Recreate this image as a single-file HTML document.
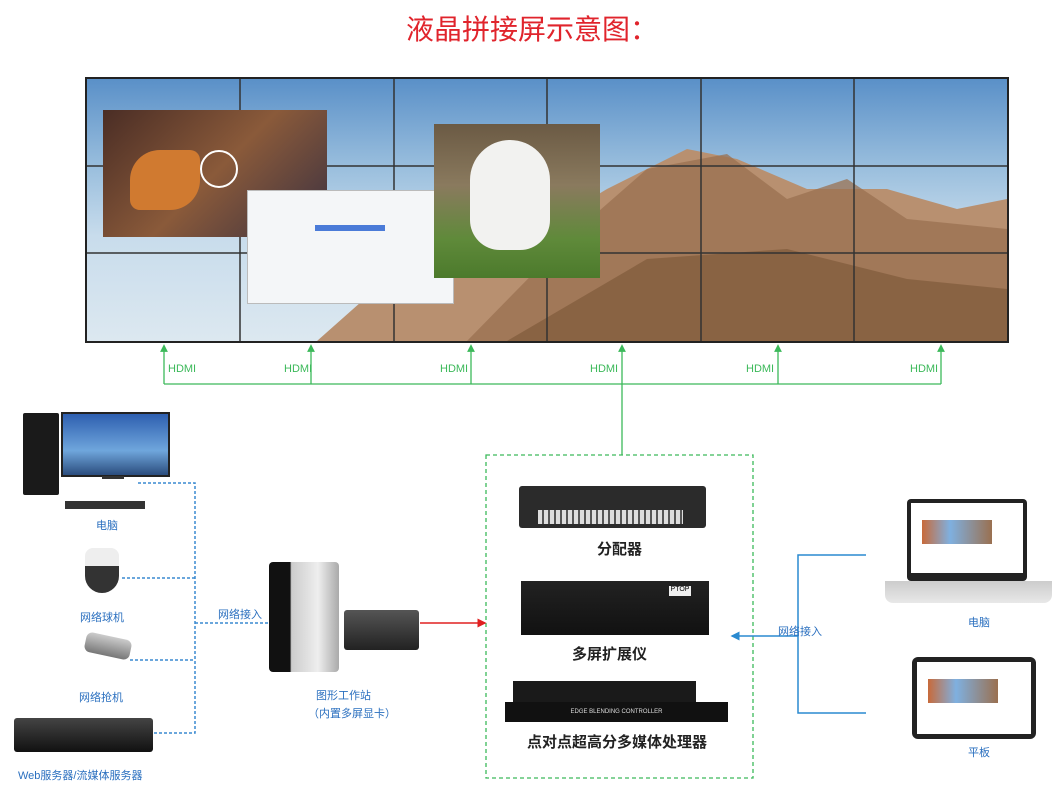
<!DOCTYPE html>
<html><head><meta charset="utf-8"><style>
body{margin:0;width:1064px;height:794px;background:#fff;position:relative;overflow:hidden;font-family:"Liberation Sans","Noto Sans CJK SC",sans-serif}
.a{position:absolute}
.t{position:absolute;font-size:11px;color:#2a6fbf;white-space:nowrap}
.k{position:absolute;font-size:15px;color:#222;font-weight:bold;white-space:nowrap}
</style></head><body>
<div class="a" style="left:0;top:8px;width:1064px;text-align:center;font-size:28px;color:#e0242c">液晶拼接屏示意图：</div>

<div class="a" style="left:85px;top:77px;width:924px;height:266px;background:#222"></div>
<div class="a" style="left:87px;top:79px;width:920px;height:262px;background:linear-gradient(180deg,#5a90c8 0%,#9cc0de 35%,#c8dcec 60%,#dce8f0 100%)"></div>
<svg class="a" style="left:87px;top:79px" width="920" height="262">
<polygon points="230,262 300,200 420,170 520,110 600,70 650,80 720,110 800,110 870,130 920,120 920,262" fill="#b89070"/>
<polygon points="380,262 480,160 560,90 640,75 700,120 760,100 820,140 920,150 920,262" fill="#9a7050" opacity=".75"/>
<polygon points="420,262 560,180 700,170 820,200 920,210 920,262" fill="#7a5535" opacity=".6"/>
<g stroke="#333" stroke-width="1.5"><line x1="153" y1="0" x2="153" y2="262"/><line x1="307" y1="0" x2="307" y2="262"/><line x1="460" y1="0" x2="460" y2="262"/><line x1="614" y1="0" x2="614" y2="262"/><line x1="767" y1="0" x2="767" y2="262"/><line x1="0" y1="87" x2="920" y2="87"/><line x1="0" y1="174" x2="920" y2="174"/></g>
</svg>
<div class="a" style="left:103px;top:110px;width:224px;height:127px;background:linear-gradient(135deg,#4a2d25,#8a5a3a 50%,#3a3040)"></div>
<div class="a" style="left:130px;top:150px;width:70px;height:60px;background:#d07a30;border-radius:30px 10px"></div>
<div class="a" style="left:200px;top:150px;width:34px;height:34px;border-radius:50%;border:2px solid #fff"></div>
<div class="a" style="left:247px;top:190px;width:205px;height:112px;background:#f4f6f8;border:1px solid #bbb"></div>
<div class="a" style="left:315px;top:225px;width:70px;height:6px;background:#4a7bd8"></div>
<div class="a" style="left:434px;top:124px;width:166px;height:154px;background:linear-gradient(180deg,#6b5a44 0%,#8a7a5e 40%,#5f8a3a 75%,#4c7a2c 100%)"></div>
<div class="a" style="left:470px;top:140px;width:80px;height:110px;background:#f2f2f0;border-radius:40px 40px 30px 30px"></div>

<svg class="a" style="left:0;top:0" width="1064" height="794">
<defs>
<marker id="g" markerWidth="6" markerHeight="6" refX="3" refY="3" orient="auto"><path d="M0,0L6,3L0,6z" fill="#3cb95a"/></marker>
<marker id="r" markerWidth="6" markerHeight="6" refX="5" refY="3" orient="auto"><path d="M0,0L6,3L0,6z" fill="#e02020"/></marker>
<marker id="b" markerWidth="6" markerHeight="6" refX="5" refY="3" orient="auto"><path d="M0,0L6,3L0,6z" fill="#2a8ad0"/></marker>
</defs>
<g stroke="#3cb95a" stroke-width="1.3" fill="none">
<polyline points="164,384 941,384"/>
<line x1="164" y1="384" x2="164" y2="348" marker-end="url(#g)"/>
<line x1="311" y1="384" x2="311" y2="348" marker-end="url(#g)"/>
<line x1="471" y1="384" x2="471" y2="348" marker-end="url(#g)"/>
<line x1="622" y1="455" x2="622" y2="348" marker-end="url(#g)"/>
<line x1="778" y1="384" x2="778" y2="348" marker-end="url(#g)"/>
<line x1="941" y1="384" x2="941" y2="348" marker-end="url(#g)"/>
<rect x="486" y="455" width="267" height="323" stroke-dasharray="4,3"/>
</g>
<g stroke="#3a8ad0" stroke-width="1.5" fill="none" stroke-dasharray="3,2">
<polyline points="138,483 195,483 195,733 152,733"/>
<line x1="122" y1="578" x2="195" y2="578"/>
<line x1="130" y1="660" x2="195" y2="660"/>
<line x1="195" y1="623" x2="268" y2="623"/>
</g>
<line x1="420" y1="623" x2="485" y2="623" stroke="#e02020" stroke-width="1.5" marker-end="url(#r)"/>
<g stroke="#2a8ad0" stroke-width="1.5" fill="none">
<polyline points="866,555 798,555 798,713 866,713"/>
<line x1="798" y1="636" x2="732" y2="636" marker-end="url(#b)"/>
</g>
</svg>
<div class="a" style="left:168px;top:363px;font-size:11px;color:#3cb95a">HDMI</div>
<div class="a" style="left:284px;top:363px;font-size:11px;color:#3cb95a">HDMI</div>
<div class="a" style="left:440px;top:363px;font-size:11px;color:#3cb95a">HDMI</div>
<div class="a" style="left:590px;top:363px;font-size:11px;color:#3cb95a">HDMI</div>
<div class="a" style="left:746px;top:363px;font-size:11px;color:#3cb95a">HDMI</div>
<div class="a" style="left:910px;top:363px;font-size:11px;color:#3cb95a">HDMI</div>

<div class="a" style="left:23px;top:413px;width:36px;height:82px;background:#1a1a1a;border-radius:2px"></div>
<div class="a" style="left:61px;top:412px;width:105px;height:61px;background:linear-gradient(180deg,#2e5fb0,#6fa6dc 60%,#2b4d7e);border:2px solid #222"></div>
<div class="a" style="left:102px;top:476px;width:22px;height:3px;background:#333"></div>
<div class="a" style="left:65px;top:501px;width:80px;height:8px;background:#333"></div>
<div class="t" style="left:96px;top:517px">电脑</div>
<div class="a" style="left:85px;top:548px;width:34px;height:45px;background:linear-gradient(180deg,#eee 40%,#333 40%);border-radius:8px 8px 17px 17px"></div>
<div class="t" style="left:80px;top:609px">网络球机</div>
<div class="a" style="left:85px;top:636px;width:46px;height:20px;background:linear-gradient(#ccc,#777);border-radius:6px;transform:rotate(12deg)"></div>
<div class="t" style="left:79px;top:689px">网络抢机</div>
<div class="a" style="left:14px;top:718px;width:139px;height:34px;background:linear-gradient(#444,#111);border-radius:3px"></div>
<div class="t" style="left:18px;top:767px">Web服务器/流媒体服务器</div>
<div class="t" style="left:218px;top:606px">网络接入</div>

<div class="a" style="left:269px;top:562px;width:70px;height:110px;background:linear-gradient(90deg,#111 30%,#ccc 32%,#eee 70%,#aaa);border-radius:4px"></div>
<div class="a" style="left:344px;top:610px;width:75px;height:40px;background:linear-gradient(#555,#222);border-radius:3px"></div>
<div class="t" style="left:316px;top:687px">图形工作站</div>
<div class="t" style="left:308px;top:705px">（内置多屏显卡）</div>

<div class="a" style="left:519px;top:486px;width:187px;height:42px;background:#2b2b2b;border-radius:3px"></div>
<div class="a" style="left:538px;top:510px;width:145px;height:14px;background:repeating-linear-gradient(90deg,#ddd 0 4px,#555 4px 6px)"></div>
<div class="k" style="left:597px;top:538px">分配器</div>
<div class="a" style="left:521px;top:581px;width:188px;height:54px;background:linear-gradient(#222,#111)"></div>
<div class="a" style="left:669px;top:586px;width:22px;height:10px;background:#eee;font-size:7px;color:#000;text-align:center">PTOP</div>
<div class="k" style="left:572px;top:643px">多屏扩展仪</div>
<div class="a" style="left:513px;top:681px;width:183px;height:22px;background:#1a1a1a"></div>
<div class="a" style="left:505px;top:702px;width:223px;height:20px;background:#111;color:#ddd;font-size:6px;line-height:20px;text-align:center">EDGE BLENDING CONTROLLER</div>
<div class="k" style="left:527px;top:731px">点对点超高分多媒体处理器</div>

<div class="t" style="left:778px;top:623px">网络接入</div>
<div class="a" style="left:907px;top:499px;width:120px;height:82px;background:#222;border-radius:4px"></div>
<div class="a" style="left:911px;top:503px;width:112px;height:70px;background:#fff"></div>
<div class="a" style="left:922px;top:520px;width:70px;height:24px;background:linear-gradient(90deg,#c86a3a,#7fb0e0 40%,#9a7050)"></div>
<div class="a" style="left:885px;top:581px;width:167px;height:22px;background:linear-gradient(#ccc,#e8e8e8);border-radius:0 0 8px 8px"></div>
<div class="t" style="left:968px;top:614px">电脑</div>
<div class="a" style="left:912px;top:657px;width:124px;height:82px;background:#222;border-radius:6px"></div>
<div class="a" style="left:917px;top:662px;width:114px;height:72px;background:#fff"></div>
<div class="a" style="left:928px;top:679px;width:70px;height:24px;background:linear-gradient(90deg,#c86a3a,#7fb0e0 40%,#9a7050)"></div>
<div class="t" style="left:968px;top:744px">平板</div>
</body></html>
